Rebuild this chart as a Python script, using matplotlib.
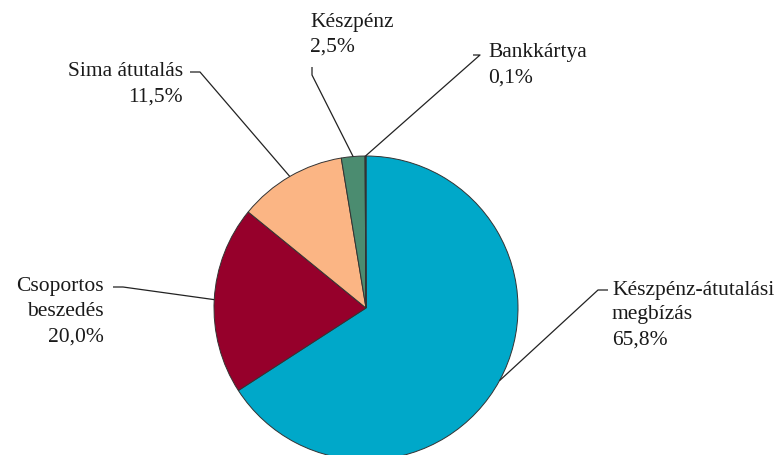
import matplotlib.pyplot as plt
import numpy as np

# payment methods, share of transactions (%)
labels = ["Készpénz-átutalási\nmegbízás", "Csoportos\nbeszedés", "Sima átutalás",
          "Készpénz", "Bankkártya"]
shares = [65.8, 20.0, 11.5, 2.5, 0.1]
colors = ["#00a8c9", "#96002b", "#fbb584", "#4b8c70", "#d8392c"]

W, H = 783, 455
CX, CY, R = 366, 455 - 308, 152

# label layout in pixel coords (y measured from the top)
# (text x, first line y, align, elbow points between text and pie)
layout = [
    (612, 290, "left", [(608, 290), (598, 290)]),
    (104, 287, "right", [(113, 287), (123, 287)]),
    (183, 72, "right", [(190, 72), (200, 72)]),
    (310, 22, "left", [(312, 67), (312, 75)]),
    (488, 53, "left", [(473, 55), (480, 55)]),
]
LINE = 25

plt.rcParams["font.family"] = ["Liberation Serif", "DejaVu Serif"]

fig = plt.figure(figsize=(W / 100, H / 100), dpi=100)
ax = fig.add_axes([0, 0, 1, 1])

wedges, _ = ax.pie(shares, colors=colors, startangle=90, counterclock=False,
                   center=(CX, CY), radius=R,
                   wedgeprops=dict(edgecolor="#333333", linewidth=0.7))

for w, lab, val, (tx, ty, ha, elbow) in zip(wedges, labels, shares, layout):
    mid = np.deg2rad((w.theta1 + w.theta2) / 2)
    ex, ey = CX + R * np.cos(mid), CY + R * np.sin(mid)
    pts = [(x, H - y) for x, y in elbow] + [(ex, ey)]
    xs, ys = zip(*pts)
    ax.plot(xs, ys, color="#222222", lw=0.9, solid_capstyle="butt")
    lines = lab.split("\n") + [f"{val:.1f}%".replace(".", ",")]
    for i, s in enumerate(lines):
        ax.text(tx, H - (ty + i * LINE), s, ha=ha, va="center",
                fontsize=15.5, color="#1a1a1a")

ax.set_xlim(0, W)
ax.set_ylim(0, H)
ax.set_aspect("auto")
ax.axis("off")

fig.savefig("out.png", dpi=100)
